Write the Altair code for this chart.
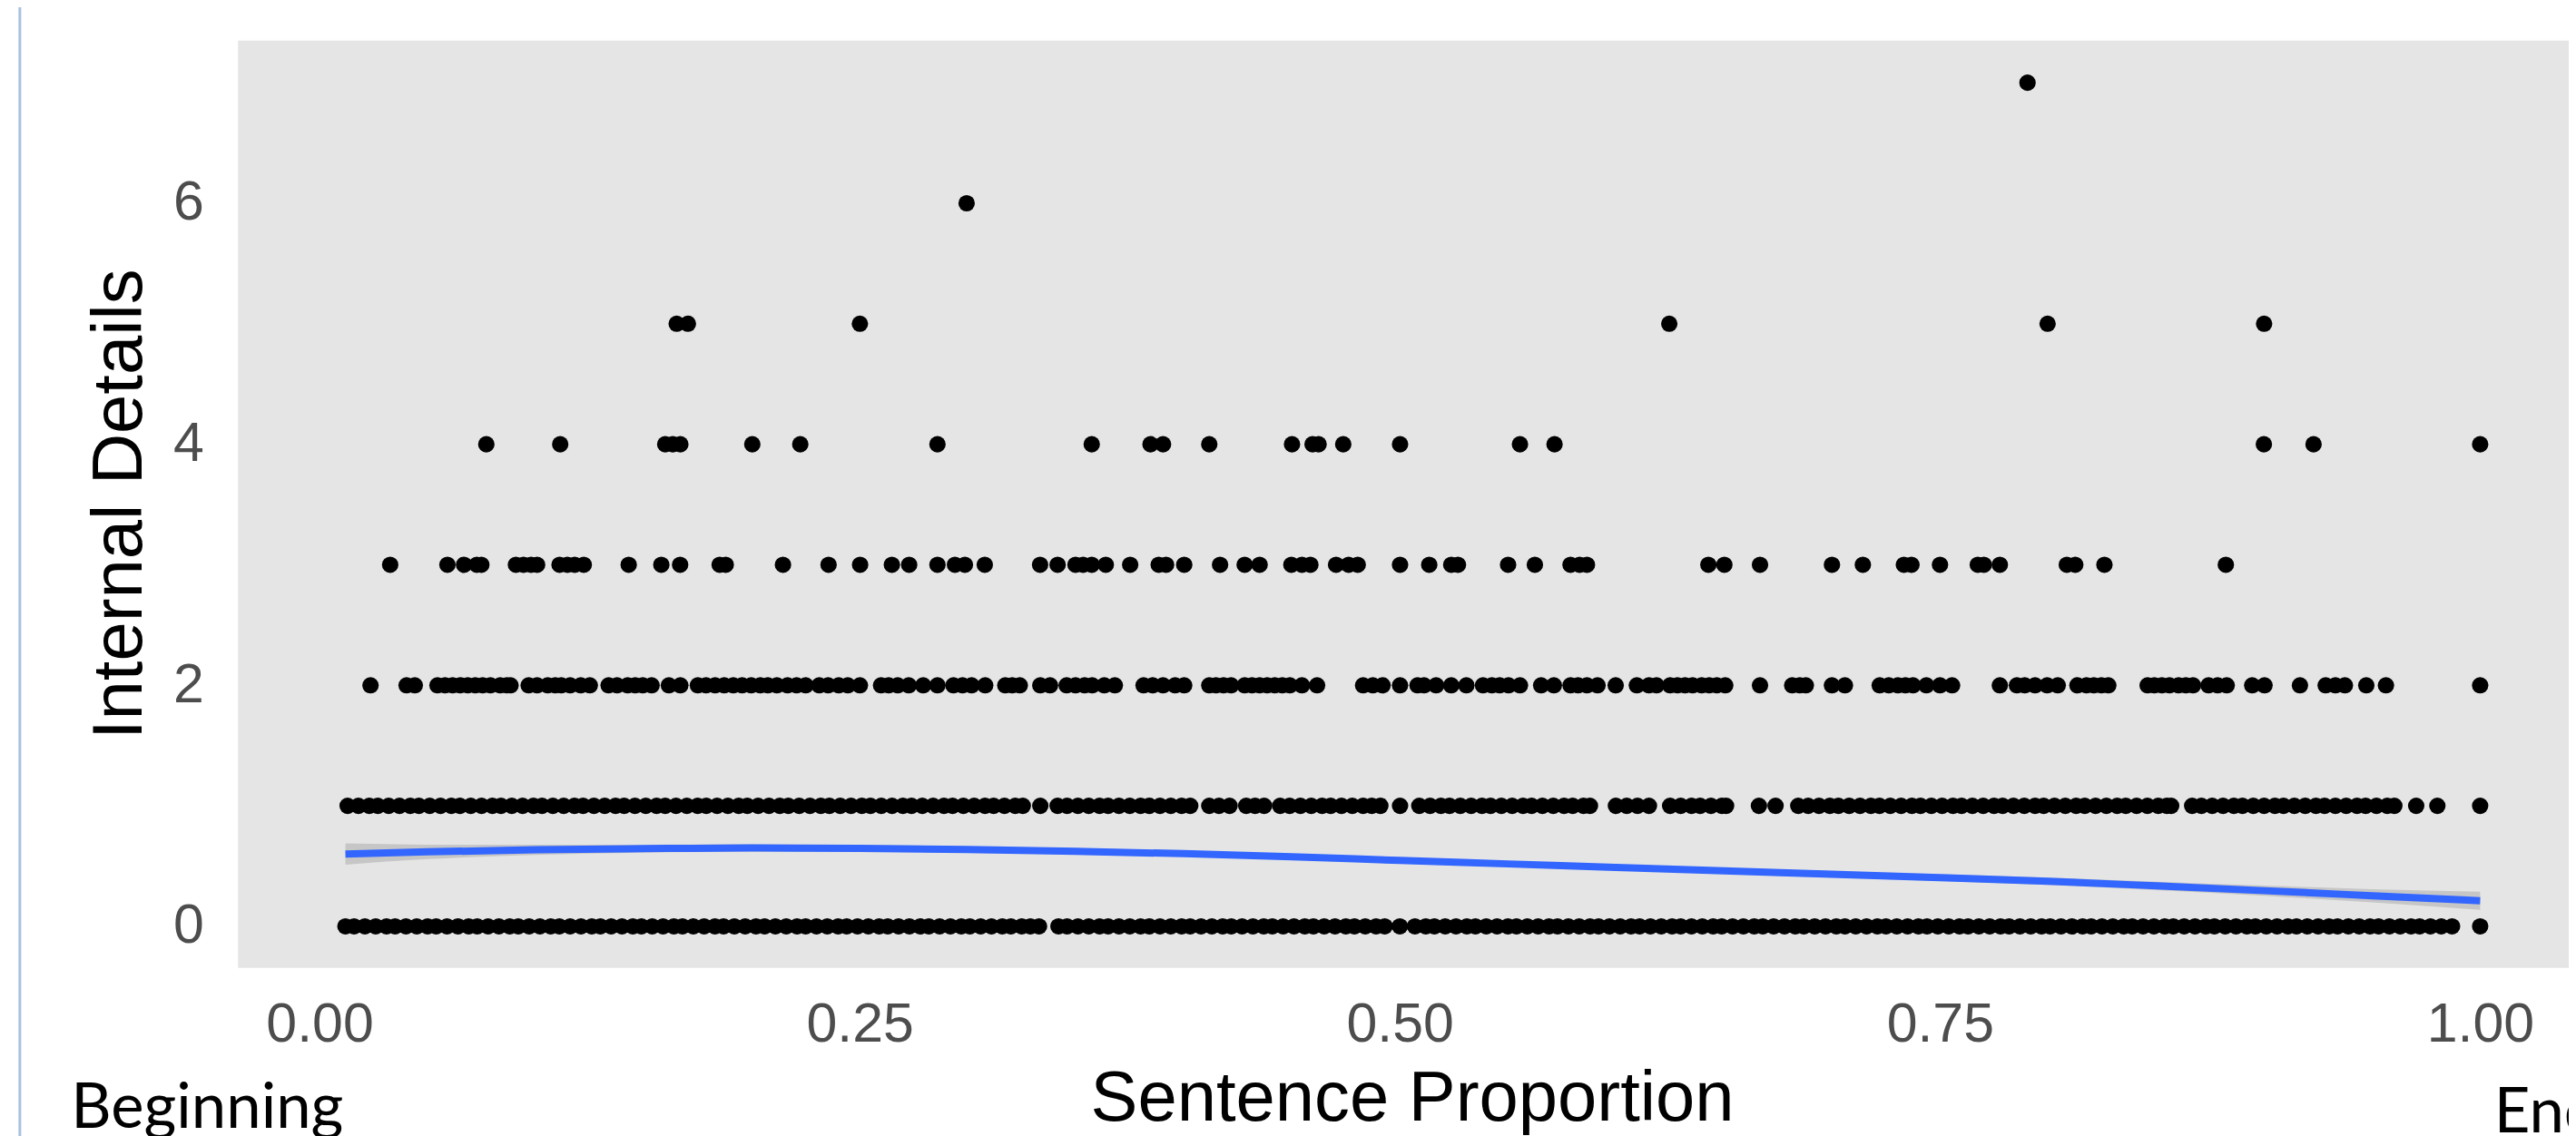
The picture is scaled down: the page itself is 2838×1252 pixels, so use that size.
import altair as alt
import pandas as pd

# ---- point data: x positions (sentence proportion) per "Internal Details" level ----
details_0 = [0.012, 0.016, 0.021, 0.026, 0.031, 0.035, 0.040, 0.045, 0.050, 0.054, 0.059, 0.064, 0.069, 0.073,
             0.078, 0.083, 0.088, 0.092, 0.097, 0.102, 0.107, 0.111, 0.116, 0.121, 0.126, 0.130, 0.135, 0.140,
             0.145, 0.149, 0.154, 0.159, 0.164, 0.168, 0.173, 0.178, 0.183, 0.187, 0.192, 0.197, 0.202, 0.206,
             0.211, 0.216, 0.221, 0.225, 0.230, 0.235, 0.240, 0.244, 0.249, 0.254, 0.259, 0.263, 0.268, 0.273,
             0.278, 0.282, 0.287, 0.292, 0.297, 0.301, 0.306, 0.311, 0.316, 0.320, 0.325, 0.329, 0.333, 0.342,
             0.346, 0.351, 0.356, 0.361, 0.365, 0.370, 0.375, 0.380, 0.384, 0.389, 0.394, 0.399, 0.403, 0.408,
             0.413, 0.418, 0.422, 0.427, 0.432, 0.437, 0.441, 0.446, 0.451, 0.456, 0.460, 0.465, 0.470, 0.475,
             0.479, 0.484, 0.489, 0.493, 0.500, 0.507, 0.512, 0.516, 0.521, 0.526, 0.531, 0.535, 0.540, 0.545,
             0.550, 0.554, 0.559, 0.564, 0.569, 0.573, 0.578, 0.583, 0.588, 0.592, 0.597, 0.602, 0.607, 0.611,
             0.616, 0.621, 0.626, 0.630, 0.635, 0.640, 0.645, 0.649, 0.654, 0.659, 0.664, 0.668, 0.673, 0.678,
             0.683, 0.687, 0.692, 0.697, 0.702, 0.706, 0.711, 0.716, 0.721, 0.725, 0.730, 0.735, 0.740, 0.744,
             0.749, 0.754, 0.759, 0.763, 0.768, 0.773, 0.778, 0.782, 0.787, 0.792, 0.797, 0.801, 0.806, 0.811,
             0.816, 0.820, 0.825, 0.830, 0.835, 0.839, 0.844, 0.849, 0.854, 0.858, 0.863, 0.868, 0.873, 0.877,
             0.882, 0.887, 0.892, 0.896, 0.901, 0.906, 0.911, 0.915, 0.920, 0.925, 0.930, 0.934, 0.939, 0.944,
             0.949, 0.953, 0.958, 0.963, 0.968, 0.972, 0.977, 0.982, 0.987, 1.000]
details_1 = [0.013, 0.018, 0.023, 0.027, 0.032, 0.037, 0.042, 0.046, 0.051, 0.056, 0.061, 0.065, 0.070, 0.075,
             0.080, 0.084, 0.089, 0.094, 0.099, 0.103, 0.108, 0.113, 0.118, 0.122, 0.127, 0.132, 0.137, 0.141,
             0.146, 0.151, 0.156, 0.160, 0.165, 0.170, 0.175, 0.179, 0.184, 0.189, 0.194, 0.198, 0.203, 0.208,
             0.213, 0.217, 0.222, 0.227, 0.232, 0.236, 0.241, 0.246, 0.251, 0.255, 0.260, 0.265, 0.270, 0.274,
             0.279, 0.284, 0.289, 0.293, 0.298, 0.303, 0.308, 0.312, 0.317, 0.322, 0.3255, 0.3336, 0.3416, 0.346,
             0.351, 0.356, 0.361, 0.365, 0.370, 0.375, 0.380, 0.384, 0.389, 0.394, 0.399, 0.403, 0.4118, 0.4163,
             0.4212, 0.4289, 0.4330, 0.4372, 0.4446, 0.449, 0.454, 0.459, 0.464, 0.468, 0.473, 0.478, 0.483,
             0.487, 0.491, 0.5001, 0.509, 0.514, 0.519, 0.523, 0.528, 0.533, 0.538, 0.542, 0.547, 0.552, 0.557,
             0.561, 0.566, 0.571, 0.576, 0.580, 0.585, 0.588, 0.600, 0.605, 0.610, 0.6153, 0.6251, 0.630, 0.635,
             0.639, 0.644, 0.649, 0.651, 0.6662, 0.6739, 0.6844, 0.689, 0.694, 0.699, 0.703, 0.708, 0.713, 0.718,
             0.722, 0.727, 0.732, 0.737, 0.741, 0.746, 0.751, 0.756, 0.760, 0.765, 0.770, 0.775, 0.779, 0.784,
             0.789, 0.794, 0.798, 0.803, 0.808, 0.813, 0.817, 0.822, 0.827, 0.832, 0.836, 0.841, 0.846, 0.851,
             0.855, 0.857, 0.8667, 0.871, 0.876, 0.881, 0.886, 0.890, 0.895, 0.900, 0.905, 0.909, 0.914, 0.919,
             0.924, 0.928, 0.933, 0.938, 0.943, 0.947, 0.952, 0.957, 0.9603, 0.9704, 0.9802, 1.000]
details_2 = [0.0236, 0.0403, 0.0441, 0.0546, 0.0581, 0.0616, 0.0651, 0.0686, 0.0721, 0.0755, 0.0791, 0.0836,
             0.0867, 0.0884, 0.0968, 0.1007, 0.1056, 0.1091, 0.1119, 0.1160, 0.1209, 0.1251, 0.1338, 0.1377,
             0.1426, 0.1461, 0.1496, 0.1537, 0.1617, 0.1670, 0.1751, 0.1789, 0.1831, 0.1873, 0.1915, 0.1956,
             0.1998, 0.2040, 0.2075, 0.2117, 0.2166, 0.2208, 0.2250, 0.2313, 0.2354, 0.2403, 0.2445, 0.2501,
             0.2599, 0.2634, 0.2676, 0.2727, 0.2794, 0.2860, 0.2934, 0.2976, 0.3018, 0.3081, 0.3174, 0.3206,
             0.3241, 0.3336, 0.3381, 0.3458, 0.3499, 0.3541, 0.3576, 0.3632, 0.3681, 0.3814, 0.3856, 0.3904,
             0.3960, 0.4002, 0.4118, 0.4149, 0.4184, 0.4219, 0.4282, 0.4316, 0.4351, 0.4386, 0.4421, 0.4456,
             0.4491, 0.4547, 0.4617, 0.4830, 0.4875, 0.4920, 0.5001, 0.5082, 0.5112, 0.5168, 0.5238, 0.5308,
             0.5385, 0.5426, 0.5462, 0.5503, 0.5556, 0.5654, 0.5713, 0.5790, 0.5825, 0.5866, 0.5915, 0.5999,
             0.6097, 0.6153, 0.6188, 0.6251, 0.6285, 0.6320, 0.6355, 0.6397, 0.6432, 0.6467, 0.6506, 0.6667,
             0.6816, 0.6851, 0.6879, 0.7000, 0.7060, 0.7221, 0.7263, 0.7305, 0.7340, 0.7375, 0.7437, 0.7500,
             0.7556, 0.7777, 0.7856, 0.7892, 0.7940, 0.7996, 0.8045, 0.8136, 0.8178, 0.8212, 0.8247, 0.8279,
             0.8461, 0.8492, 0.8527, 0.8562, 0.8604, 0.8638, 0.8671, 0.8743, 0.8785, 0.8827, 0.8945, 0.9002,
             0.9166, 0.9285, 0.9330, 0.9374, 0.9473, 0.9564, 1.000]
details_3 = [0.0327, 0.0592, 0.0669, 0.0728, 0.0749, 0.0909, 0.0944, 0.0979, 0.1007, 0.1111, 0.1147, 0.1181,
             0.1223, 0.1431, 0.1582, 0.1669, 0.1852, 0.1880, 0.2145, 0.2356, 0.2502, 0.2649, 0.2729, 0.2860,
             0.2941, 0.2987, 0.3079, 0.3335, 0.3416, 0.3499, 0.3534, 0.3574, 0.3639, 0.3752, 0.3884, 0.3918,
             0.4002, 0.4168, 0.4282, 0.4351, 0.4498, 0.4547, 0.4586, 0.4705, 0.4763, 0.4805, 0.5001, 0.5136,
             0.5238, 0.5269, 0.5501, 0.5625, 0.5790, 0.5832, 0.5866, 0.6428, 0.6502, 0.6667, 0.7000, 0.7143,
             0.7333, 0.7368, 0.7500, 0.7675, 0.7703, 0.7777, 0.8087, 0.8126, 0.8261, 0.8823]
details_4 = [0.0772, 0.1114, 0.1600, 0.1635, 0.1670, 0.2003, 0.2225, 0.2860, 0.3574, 0.3846, 0.3904, 0.4118,
             0.4501, 0.4596, 0.4624, 0.4738, 0.5001, 0.5556, 0.5716, 0.8999, 0.9229, 1.000]
details_5 = [0.1653, 0.1705, 0.2501, 0.6247, 0.7998, 0.9000]
details_6 = [0.2995]
details_7 = [0.7905]

# ---- loess smooth with confidence band ----
smooth_x = [0.012, 0.05, 0.10, 0.15, 0.20, 0.25, 0.30, 0.35, 0.40, 0.45, 0.50,
            0.55, 0.60, 0.65, 0.70, 0.75, 0.80, 0.85, 0.90, 0.95, 1.00]
smooth_y = [0.600, 0.618, 0.635, 0.645, 0.650, 0.647, 0.637, 0.622, 0.603, 0.577, 0.547,
            0.518, 0.489, 0.460, 0.432, 0.404, 0.374, 0.336, 0.296, 0.254, 0.212]
smooth_se = [0.088, 0.060, 0.042, 0.033, 0.030, 0.028, 0.027, 0.026, 0.025, 0.025, 0.024,
             0.024, 0.025, 0.026, 0.027, 0.028, 0.030, 0.035, 0.042, 0.055, 0.075]

# ---- annotations below the axis ----
note_text = ["Beginning", "End"]
note_x = [-0.1150, 1.0064]
note_y = [-1.674, -1.712]

# a thin page-border line at the far left of the picture
edge_x = [-0.1387]

levels = [details_0, details_1, details_2, details_3, details_4, details_5, details_6, details_7]
points = pd.DataFrame(
    [{"prop": x, "details": lvl} for lvl, xs in enumerate(levels) for x in xs]
)
smooth = pd.DataFrame({
    "prop": smooth_x,
    "fit": smooth_y,
    "lo": [y - s for y, s in zip(smooth_y, smooth_se)],
    "hi": [y + s for y, s in zip(smooth_y, smooth_se)],
})
notes = pd.DataFrame({"text": note_text, "prop": note_x, "details": note_y})
edge = pd.DataFrame({"prop": edge_x, "top": [8.2], "bottom": [-2.3]})

AXIS_FONT = "Liberation Sans"

xscale = alt.Scale(domain=[-0.0377, 1.0410], nice=False, zero=False)
yscale = alt.Scale(domain=[-0.345, 7.35], nice=False, zero=False)

xaxis = alt.Axis(
    values=[0, 0.25, 0.5, 0.75, 1.0], format=".2f", title="Sentence Proportion",
    grid=False, ticks=False, tickSize=0, domain=False,
    labelFont=AXIS_FONT, labelFontSize=61, labelColor="#4D4D4D", labelPadding=33,
    titleFont=AXIS_FONT, titleFontSize=78, titleColor="black", titleFontWeight="normal",
    titleX=1297, titleY=168, titleBaseline="alphabetic", titleAlign="center",
)
yaxis = alt.Axis(
    values=[0, 2, 4, 6], format="d", title="Internal Details",
    grid=False, ticks=False, tickSize=0, domain=False,
    labelFont=AXIS_FONT, labelFontSize=61, labelColor="#4D4D4D", labelPadding=38,
    titleFont=AXIS_FONT, titleFontSize=78, titleColor="black", titleFontWeight="normal",
    titleAngle=270, titleX=-107, titleY=512, titleBaseline="alphabetic", titleAlign="center",
)

pts = alt.Chart(points).mark_circle(size=330, color="black", opacity=1).encode(
    x=alt.X("prop:Q", scale=xscale, axis=xaxis),
    y=alt.Y("details:Q", scale=yscale, axis=yaxis),
)

band = alt.Chart(smooth).mark_area(color="#999999", opacity=0.4, interpolate="monotone").encode(
    x=alt.X("prop:Q", scale=xscale),
    y=alt.Y("lo:Q", scale=yscale),
    y2="hi:Q",
)

line = alt.Chart(smooth).mark_line(color="#3366FF", strokeWidth=8, interpolate="monotone").encode(
    x=alt.X("prop:Q", scale=xscale),
    y=alt.Y("fit:Q", scale=yscale),
)

text = alt.Chart(notes).mark_text(
    font="Lato", fontSize=69, color="black", align="left", baseline="alphabetic"
).encode(
    x=alt.X("prop:Q", scale=xscale),
    y=alt.Y("details:Q", scale=yscale),
    text="text:N",
)

border = alt.Chart(edge).mark_rule(color="#A9C1E0", strokeWidth=3).encode(
    x=alt.X("prop:Q", scale=xscale),
    y=alt.Y("top:Q", scale=yscale),
    y2="bottom:Q",
)

chart = (
    alt.layer(pts, band, line, text, border)
    .properties(
        width=2575,
        height=1025,
        autosize=alt.AutoSizeParams(type="none"),
        padding={"left": 255, "top": 35, "right": 0, "bottom": 184},
        background="white",
    )
    .configure_view(fill="#E5E5E5", strokeWidth=0)
)

chart.save("out.html", embed_options={"renderer": "svg", "actions": False})
